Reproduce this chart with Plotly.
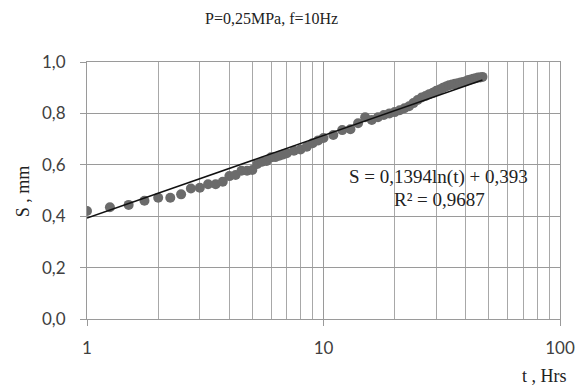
import numpy as np
import plotly.graph_objects as go

# Data
t_hrs = [1, 1.25, 1.5, 1.75, 2, 2.25, 2.5, 2.75, 3, 3.25, 3.5, 3.75, 4, 4.25, 4.5, 4.75,
         5, 5.25, 5.5, 5.75, 6, 6.25, 6.5, 6.75, 7, 7.5, 8, 8.5, 9, 9.5, 10,
         11, 12, 13, 14, 15, 16, 17, 18, 19, 20, 21, 22, 23, 24, 25, 26, 27, 28, 29,
         30, 31, 32, 33, 34, 35, 36, 37, 38, 39, 40, 41, 42, 43, 44, 45, 46, 47]
s_mm = [0.42, 0.435, 0.444, 0.46, 0.472, 0.472, 0.485, 0.508, 0.511, 0.524, 0.524, 0.534,
        0.556, 0.56, 0.577, 0.577, 0.58, 0.603, 0.612, 0.615, 0.629, 0.63, 0.635, 0.64,
        0.645, 0.655, 0.66, 0.67, 0.684, 0.695, 0.704,
        0.716, 0.735, 0.738, 0.762, 0.785, 0.774, 0.785, 0.794, 0.80, 0.805, 0.812, 0.82,
        0.828, 0.84, 0.852, 0.862, 0.868, 0.875, 0.88, 0.888, 0.893, 0.90, 0.905, 0.91,
        0.912, 0.915, 0.917, 0.92, 0.922, 0.925, 0.93, 0.932, 0.935, 0.937, 0.94, 0.94, 0.942]

fit_a = 0.1394
fit_b = 0.393
fit_r2 = 0.9687

x_tick_vals = [1, 10, 100]
x_tick_text = ["1", "10", "100"]
x_minor_vals = [2, 3, 4, 5, 6, 7, 8, 9, 20, 30, 40, 50, 60, 70, 80, 90]

title_text = "P=0,25MPa, f=10Hz"
x_title = "t , Hrs"
y_title = "S , mm"

t_fit = np.linspace(min(t_hrs), max(t_hrs), 200)
s_fit = fit_a * np.log(t_fit) + fit_b

fig = go.Figure()
fig.add_trace(go.Scatter(x=t_hrs, y=s_mm, mode="markers",
                         marker=dict(size=10, color="#6b6b6b"), showlegend=False))
fig.add_trace(go.Scatter(x=t_fit, y=s_fit, mode="lines",
                         line=dict(color="#111111", width=1.6), showlegend=False))

L, R, T, B = 87, 17, 62, 71
W, H = 587, 390
pw, ph = W - L - R, H - T - B

def px(xp):
    return (xp - L) / pw

def py(yp):
    return (H - B - yp) / ph

grid_c = "#9a9a9a"
tick_font = dict(family="Lato, Carlito, sans-serif", size=17, color="#404040")
serif = "Liberation Serif, Times New Roman, serif"

def ann(text, x, y, size=16, **kw):
    return dict(text=text, x=px(x), y=py(y), xref="paper", yref="paper",
                xanchor="center", yanchor="middle", showarrow=False,
                font=dict(family=serif, size=size, color="#222"), **kw)

fig.update_layout(
    width=W, height=H,
    margin=dict(l=L, r=R, t=T, b=B),
    paper_bgcolor="white", plot_bgcolor="white",
    separators=", ",
    xaxis=dict(type="log", range=[0, 2], tickvals=x_tick_vals, ticktext=x_tick_text,
               ticks="outside", ticklen=6, tickcolor=grid_c, tickfont=tick_font,
               showgrid=True, gridcolor=grid_c, gridwidth=1.2,
               showline=True, linecolor=grid_c, linewidth=1.2, mirror=True,
               ticklabelstandoff=7,
               minor=dict(tickvals=x_minor_vals, showgrid=True, gridcolor="#a8a8a8",
                          gridwidth=1, ticks="")),
    yaxis=dict(range=[0, 1.0], dtick=0.2, tick0=0, tickformat=".1f",
               ticks="outside", ticklen=6, tickcolor=grid_c, tickfont=tick_font,
               showgrid=True, gridcolor=grid_c, gridwidth=1.2, zeroline=False,
               showline=True, linecolor=grid_c, linewidth=1.2, mirror=True,
               ticklabelstandoff=11),
    annotations=[
        ann(title_text, 275, 19),
        ann(y_title, 22, 191, size=18, textangle=-90),
        ann(x_title, 554, 376, size=18),
        ann("S = 0,1394ln(t) + 0,393", 446, 177, size=19),
        ann("R² = 0,9687", 447, 199, size=19),
    ],
)

fig.write_html("out.html")
